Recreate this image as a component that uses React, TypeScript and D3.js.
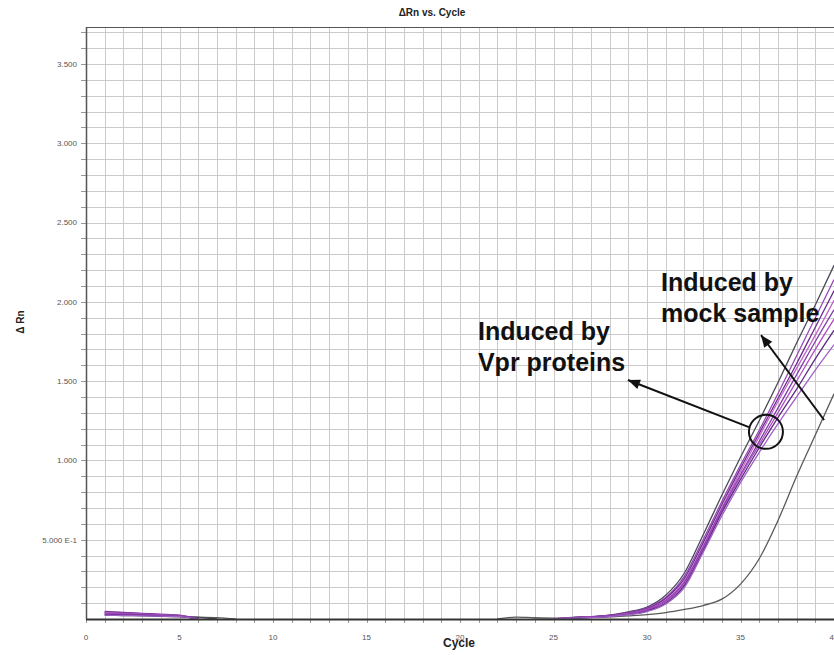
import React from "react";
import * as d3 from "d3";

const TITLE = "ΔRn vs. Cycle";
const X_LABEL = "Cycle";
const Y_LABEL = "Δ Rn";
const X_TICKS = [0, 5, 10, 15, 20, 25, 30, 35, 40];
const Y_TICKS = [0.5, 1.0, 1.5, 2.0, 2.5, 3.0, 3.5];
const Y_TICK_LABELS = ["5.000 E-1", "1.000", "1.500", "2.000", "2.500", "3.000", "3.500"];

const EARLY_CYCLES = [1, 2, 3, 4, 5, 6, 7, 8];
const LATE_CYCLES = [22, 23, 24, 25, 26, 27, 28, 29, 30, 31, 32, 33, 34, 35, 36, 37, 38, 39, 40];

type Series = { name: string; color: string; early: (number | null)[]; late: (number | null)[] };

const mockEarly = [0.025, 0.022, 0.02, 0.017, 0.014, 0.011, 0.009, 0.0];
const mockLate = [0.0, 0.012, 0.008, 0.006, 0.008, 0.01, 0.013, 0.02, 0.028, 0.04, 0.06, 0.085, 0.125, 0.22, 0.38, 0.62, 0.9, 1.16, 1.42];

const g1Early = [0.038, 0.033, 0.028, 0.022, 0.016, 0.01, 0.0, null];
const g1Late = [null, null, null, 0.0, 0.01, 0.015, 0.025, 0.045, 0.075, 0.15, 0.29, 0.53, 0.78, 1.02, 1.25, 1.49, 1.74, 1.98, 2.23];

const p1Early = [0.048, 0.042, 0.036, 0.03, 0.024, 0.0, null, null];
const p1Late = [null, null, null, 0.0, 0.009, 0.015, 0.024, 0.04, 0.07, 0.135, 0.27, 0.5, 0.74, 0.97, 1.19, 1.42, 1.66, 1.9, 2.14];
const p2Early = [0.044, 0.04, 0.034, 0.028, 0.022, 0.0, null, null];
const p2Late = [null, null, null, 0.0, 0.008, 0.014, 0.022, 0.038, 0.065, 0.13, 0.255, 0.48, 0.72, 0.95, 1.17, 1.39, 1.61, 1.84, 2.07];
const p3Early = [0.04, 0.036, 0.03, 0.026, 0.02, 0.0, null, null];
const p3Late = [null, null, null, 0.0, 0.008, 0.013, 0.02, 0.035, 0.06, 0.12, 0.24, 0.46, 0.7, 0.93, 1.15, 1.37, 1.58, 1.79, 2.01];
const p4Early = [0.036, 0.032, 0.028, 0.024, 0.018, 0.0, null, null];
const p4Late = [null, null, null, 0.0, 0.007, 0.012, 0.019, 0.033, 0.057, 0.115, 0.23, 0.45, 0.69, 0.91, 1.12, 1.33, 1.54, 1.75, 1.95];
const p5Early = [0.032, 0.03, 0.026, 0.022, 0.018, 0.0, null, null];
const p5Late = [null, null, null, 0.0, 0.007, 0.011, 0.018, 0.031, 0.054, 0.11, 0.22, 0.44, 0.68, 0.9, 1.1, 1.3, 1.5, 1.7, 1.89];
const p6Early = [0.028, 0.026, 0.024, 0.02, 0.016, 0.0, null, null];
const p6Late = [null, null, null, 0.0, 0.006, 0.01, 0.017, 0.029, 0.05, 0.1, 0.21, 0.43, 0.67, 0.88, 1.08, 1.27, 1.45, 1.64, 1.82];
const p7Early = [0.024, 0.022, 0.02, 0.018, 0.015, 0.0, null, null];
const p7Late = [null, null, null, 0.0, 0.005, 0.009, 0.015, 0.027, 0.047, 0.095, 0.2, 0.42, 0.65, 0.86, 1.05, 1.23, 1.4, 1.57, 1.73];

const SERIES: Series[] = [
  { name: "mock", color: "#5a5a5a", early: mockEarly, late: mockLate },
  { name: "g1", color: "#4a4a5a", early: g1Early, late: g1Late },
  { name: "p1", color: "#9a48b8", early: p1Early, late: p1Late },
  { name: "p2", color: "#6c2c90", early: p2Early, late: p2Late },
  { name: "p3", color: "#c064c8", early: p3Early, late: p3Late },
  { name: "p4", color: "#7f3aa8", early: p4Early, late: p4Late },
  { name: "p5", color: "#b050c0", early: p5Early, late: p5Late },
  { name: "p6", color: "#5e2a86", early: p6Early, late: p6Late },
  { name: "p7", color: "#a060c8", early: p7Early, late: p7Late },
];

// annotations in data coordinates
const CIRCLE = { cycle: 36.36, value: 1.18 };
const ARROWS = [
  { from: [35.45, 1.21], to: [28.98, 1.507] },
  { from: [39.47, 1.255], to: [36.1, 1.79] },
];
const NOTES = [
  { cycle: 20.96, value: 1.76, text: "Induced by" },
  { cycle: 20.96, value: 1.564, text: "Vpr proteins" },
  { cycle: 30.75, value: 2.068, text: "Induced by" },
  { cycle: 30.75, value: 1.873, text: "mock sample" },
];

const W = 834;
const H = 655;
const LEFT = 86;
const RIGHT = 834;
const TOP = 27;
const BOTTOM = 619;

export default function App() {
  const x = d3.scaleLinear().domain([0, 40]).range([LEFT, RIGHT]);
  const y = d3.scaleLinear().domain([0, 3.733]).range([BOTTOM, TOP]);

  const vGrid = d3.range(0, 41);
  const hGrid = d3.range(1, 38).map((i) => i / 10);

  const line = d3
    .line<[number, number | null]>()
    .defined((d) => d[1] !== null)
    .x((d) => x(d[0]))
    .y((d) => y(d[1] as number))
    .curve(d3.curveMonotoneX);

  const font = "Arial, 'Liberation Sans', Helvetica, sans-serif";

  const arrowHead = (fx: number, fy: number, tx: number, ty: number) => {
    const ang = Math.atan2(ty - fy, tx - fx);
    const len = 12;
    const wid = 5;
    const bx = tx - len * Math.cos(ang);
    const by = ty - len * Math.sin(ang);
    const px = -Math.sin(ang) * wid;
    const py = Math.cos(ang) * wid;
    return `M${tx},${ty}L${bx + px},${by + py}L${bx - px},${by - py}Z`;
  };

  return (
    <svg width={W} height={H} style={{ position: "absolute", left: 0, top: 0, background: "#fff" }} fontFamily={font}>
      <defs>
        <clipPath id="plot">
          <rect x={LEFT} y={TOP} width={RIGHT - LEFT + 10} height={BOTTOM - TOP} />
        </clipPath>
      </defs>
      <rect x={0} y={0} width={W} height={H} fill="#fff" />
      <text x={432} y={16} textAnchor="middle" fontSize={10} fontWeight="bold" fill="#222">
        {TITLE}
      </text>
      {/* grid */}
      <g stroke="#cbcbcb" strokeWidth={1}>
        {vGrid.map((c) => (
          <line key={"v" + c} x1={Math.round(x(c)) + 0.5} x2={Math.round(x(c)) + 0.5} y1={TOP} y2={BOTTOM} />
        ))}
        {hGrid.map((v) => (
          <line key={"h" + v} x1={LEFT} x2={W} y1={Math.round(y(v)) + 0.5} y2={Math.round(y(v)) + 0.5} />
        ))}
      </g>
      {/* top border */}
      <line x1={LEFT} x2={W} y1={TOP + 0.5} y2={TOP + 0.5} stroke="#555" strokeWidth={1} />
      {/* ticks */}
      <g stroke="#999" strokeWidth={1}>
        {hGrid.map((v) => (
          <line key={"yt" + v} x1={LEFT - 5} x2={LEFT} y1={Math.round(y(v)) + 0.5} y2={Math.round(y(v)) + 0.5} />
        ))}
        {vGrid.map((c) => (
          <line key={"xt" + c} x1={Math.round(x(c)) + 0.5} x2={Math.round(x(c)) + 0.5} y1={BOTTOM} y2={BOTTOM + 4} />
        ))}
      </g>
      {Y_TICKS.map((v, i) => (
        <text key={"yl" + v} x={LEFT - 9} y={y(v)} dy="0.35em" textAnchor="end" fontSize={8} fill="#555">
          {Y_TICK_LABELS[i]}
        </text>
      ))}
      {X_TICKS.map((c) => (
        <text key={"xl" + c} x={x(c)} y={640} textAnchor="middle" fontSize={8} fill="#555">
          {c}
        </text>
      ))}
      <text x={459} y={647} textAnchor="middle" fontSize={12} fontWeight="bold" fill="#222">
        {X_LABEL}
      </text>
      <text transform={`translate(24,322) rotate(-90)`} textAnchor="middle" fontSize={10} fontWeight="bold" fill="#222">
        {Y_LABEL}
      </text>
      {/* curves */}
      <g clipPath="url(#plot)" fill="none" strokeWidth={1.3} strokeLinejoin="round">
        {SERIES.map((s) => (
          <g key={s.name} stroke={s.color}>
            <path d={line(EARLY_CYCLES.map((c, i) => [c, s.early[i]] as [number, number | null])) || ""} />
            <path d={line(LATE_CYCLES.map((c, i) => [c, s.late[i]] as [number, number | null])) || ""} />
          </g>
        ))}
      </g>
      {/* axes */}
      <line x1={LEFT + 0.5} x2={LEFT + 0.5} y1={TOP} y2={BOTTOM} stroke="#555" strokeWidth={1.5} />
      <line x1={LEFT} x2={W} y1={BOTTOM + 0.5} y2={BOTTOM + 0.5} stroke="#333" strokeWidth={2} />
      {/* annotations */}
      <circle cx={x(CIRCLE.cycle)} cy={y(CIRCLE.value)} r={17} fill="none" stroke="#111" strokeWidth={2} />
      {ARROWS.map((a, i) => {
        const fx = x(a.from[0]);
        const fy = y(a.from[1]);
        const tx = x(a.to[0]);
        const ty = y(a.to[1]);
        return (
          <g key={"a" + i}>
            <line x1={fx} y1={fy} x2={tx} y2={ty} stroke="#111" strokeWidth={2} />
            <path d={arrowHead(fx, fy, tx, ty)} fill="#111" />
          </g>
        );
      })}
      {NOTES.map((n, i) => (
        <text key={"n" + i} x={x(n.cycle)} y={y(n.value)} fontSize={25} fontWeight="bold" fill="#111">
          {n.text}
        </text>
      ))}
    </svg>
  );
}
